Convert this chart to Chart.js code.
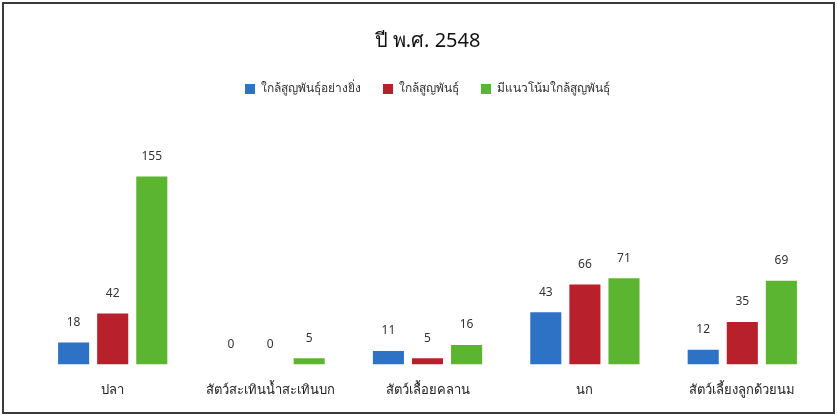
<!DOCTYPE html>
<html>
<head>
<meta charset="utf-8">
<script src="https://cdn.jsdelivr.net/npm/chart.js@4/dist/chart.umd.min.js"></script>
<style>
  html, body { margin: 0; padding: 0; background: #fff; }
  #wrap {
    position: absolute; left: 2px; top: 2px;
    width: 833px; height: 412px;
    box-sizing: border-box;
    border: 2px solid #3a3a3a;
    background: #fff;
  }
  canvas { display: block; }
</style>
</head>
<body>
<div id="wrap"><canvas id="myChart" width="829" height="408"></canvas></div>
<script>
const categories = [
  "ปลา",
  "สัตว์สะเทินน้ำสะเทินบก",
  "สัตว์เลื้อยคลาน",
  "นก",
  "สัตว์เลี้ยงลูกด้วยนม"
]
const seriesNames = [
  "ใกล้สูญพันธุ์อย่างยิ่ง",
  "ใกล้สูญพันธุ์",
  "มีแนวโน้มใกล้สูญพันธุ์"
]
const criticallyEndangered = [18, 0, 11, 43, 12]
const endangered = [42, 0, 5, 66, 35]
const vulnerable = [155, 5, 16, 71, 69]

const colors = ['#2d72c4', '#b8202b', '#5cb531']

// draw the numbers on top of each bar
const valueLabels = {
  id: 'valueLabels',
  afterDatasetsDraw(chart) {
    const ctx = chart.ctx
    ctx.save()
    ctx.font = '12px Tahoma, "Noto Sans", sans-serif'
    ctx.fillStyle = '#333'
    ctx.textAlign = 'center'
    ctx.textBaseline = 'middle'
    chart.data.datasets.forEach((ds, i) => {
      chart.getDatasetMeta(i).data.forEach((bar, j) => {
        ctx.fillText(String(ds.data[j]), bar.x, bar.y - 20)
      })
    })
    ctx.restore()
  }
}

const ctx = document.getElementById('myChart').getContext('2d')

const data = {
  labels: categories,
  datasets: [
    { label: seriesNames[0], data: criticallyEndangered, backgroundColor: colors[0] },
    { label: seriesNames[1], data: endangered, backgroundColor: colors[1] },
    { label: seriesNames[2], data: vulnerable, backgroundColor: colors[2] },
  ]
}

const config = {
  type: 'bar',
  data: data,
  plugins: [valueLabels],
  options: {
    responsive: false,
    animation: false,
    categoryPercentage: 0.745,
    barPercentage: 0.795,
    layout: { padding: { left: 30, right: 12, top: 25, bottom: 4 } },
    plugins: {
      title: {
        display: true,
        text: 'ปี พ.ศ. 2548',
        color: '#111',
        font: { size: 20, family: 'Tahoma, "Noto Sans", sans-serif', weight: 'normal' },
        padding: { top: 0, bottom: 8 }
      },
      legend: {
        position: 'top',
        labels: {
          boxWidth: 10,
          boxHeight: 10,
          color: '#333',
          padding: 22,
          font: { size: 12, family: 'Tahoma, "Noto Sans", sans-serif' }
        }
      },
      tooltip: { enabled: false }
    },
    scales: {
      x: {
        grid: { display: false },
        border: { display: false },
        ticks: {
          color: '#222',
          padding: 10,
          font: { size: 13, family: 'Tahoma, "Noto Sans", sans-serif' }
        }
      },
      y: {
        display: false,
        min: 0,
        max: 214
      }
    }
  }
}

new Chart(ctx, config)
</script>
</body>
</html>
